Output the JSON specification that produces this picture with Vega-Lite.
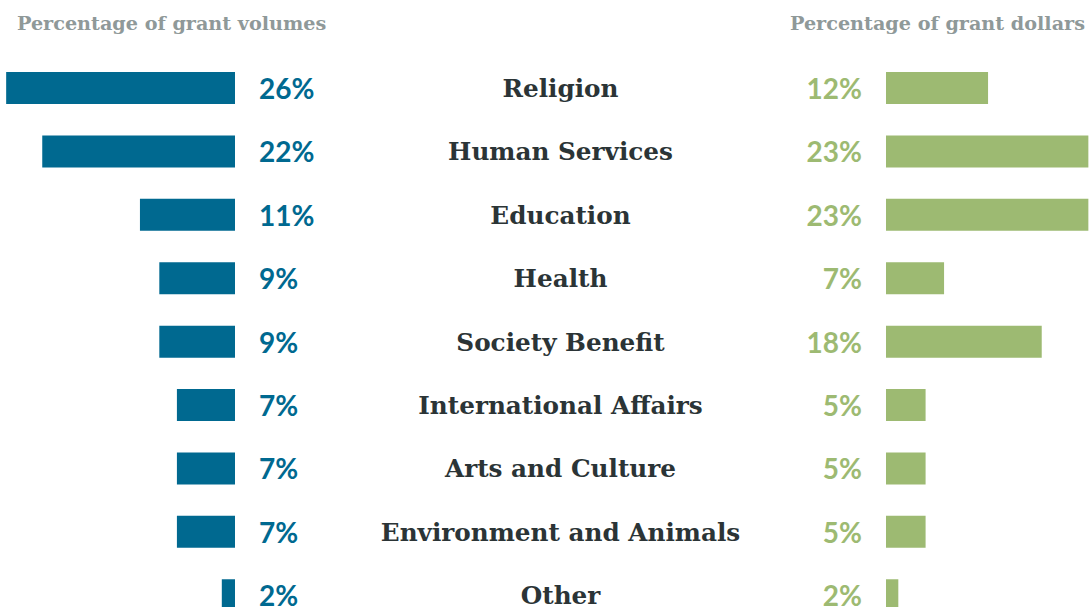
{
  "$schema": "https://vega.github.io/schema/vega-lite/v6.json",
  "padding": {"top": 14, "left": 0, "right": 0, "bottom": 0},
  "spacing": 0,
  "bounds": "flush",
  "background": "white",
  "config": {"view": {"stroke": null}},
  "data": {"values": [
    {"category": "Religion", "vol": 26.0, "volLabel": "26%", "dol": 11.6, "dolLabel": "12%"},
    {"category": "Human Services", "vol": 21.9, "volLabel": "22%", "dol": 23.0, "dolLabel": "23%"},
    {"category": "Education", "vol": 10.8, "volLabel": "11%", "dol": 23.0, "dolLabel": "23%"},
    {"category": "Health", "vol": 8.6, "volLabel": "9%", "dol": 6.6, "dolLabel": "7%"},
    {"category": "Society Benefit", "vol": 8.6, "volLabel": "9%", "dol": 17.7, "dolLabel": "18%"},
    {"category": "International Affairs", "vol": 6.6, "volLabel": "7%", "dol": 4.5, "dolLabel": "5%"},
    {"category": "Arts and Culture", "vol": 6.6, "volLabel": "7%", "dol": 4.5, "dolLabel": "5%"},
    {"category": "Environment and Animals", "vol": 6.6, "volLabel": "7%", "dol": 4.5, "dolLabel": "5%"},
    {"category": "Other", "vol": 1.5, "volLabel": "2%", "dol": 1.4, "dolLabel": "2%"}
  ]},
  "hconcat": [
    {
      "width": 235,
      "height": 603.3,
      "title": {"text": "Percentage of grant volumes", "anchor": "start", "dx": 17, "offset": 6, "font": "DejaVu Serif", "fontSize": 19.2, "fontWeight": "bold", "color": "#8f9999"},
      "encoding": {
        "y": {"field": "category", "type": "nominal", "sort": null, "axis": null,
              "scale": {"type": "band", "paddingInner": 0.495, "paddingOuter": 0.505}}
      },
      "layer": [
        {
          "mark": {"type": "bar", "color": "#006990"},
          "encoding": {
            "x": {"field": "vol", "type": "quantitative", "axis": null, "scale": {"domain": [0, 26.7], "nice": false, "zero": true, "reverse": true}},
            "x2": {"datum": 0}
          }
        },
        {
          "mark": {"type": "text", "align": "left", "baseline": "middle", "dx": 24, "dy": 3, "font": "Lato", "fontSize": 28, "fontWeight": "bold", "color": "#006990"},
          "encoding": {
            "x": {"datum": 0, "type": "quantitative"},
            "text": {"field": "volLabel"}
          }
        }
      ]
    },
    {
      "width": 651,
      "height": 603.3,
      "mark": {"type": "text", "align": "center", "baseline": "middle", "dy": 2, "font": "DejaVu Serif", "fontSize": 24.7, "fontWeight": "bold", "color": "#2b3436"},
      "encoding": {
        "y": {"field": "category", "type": "nominal", "sort": null, "axis": null,
              "scale": {"type": "band", "paddingInner": 0.495, "paddingOuter": 0.505}},
        "text": {"field": "category"}
      }
    },
    {
      "width": 205,
      "height": 603.3,
      "title": {"text": "Percentage of grant dollars", "anchor": "end", "dx": -6, "offset": 6, "font": "DejaVu Serif", "fontSize": 19.2, "fontWeight": "bold", "color": "#8f9999"},
      "encoding": {
        "y": {"field": "category", "type": "nominal", "sort": null, "axis": null,
              "scale": {"type": "band", "paddingInner": 0.495, "paddingOuter": 0.505}}
      },
      "layer": [
        {
          "mark": {"type": "bar", "color": "#9dba72"},
          "encoding": {
            "x": {"field": "dol", "type": "quantitative", "axis": null, "scale": {"domain": [0, 23.3], "nice": false, "zero": true}},
            "x2": {"datum": 0}
          }
        },
        {
          "mark": {"type": "text", "align": "right", "baseline": "middle", "dx": -24, "dy": 3, "font": "Lato", "fontSize": 28, "fontWeight": "bold", "color": "#9dba72"},
          "encoding": {
            "x": {"datum": 0, "type": "quantitative"},
            "text": {"field": "dolLabel"}
          }
        }
      ]
    }
  ]
}
